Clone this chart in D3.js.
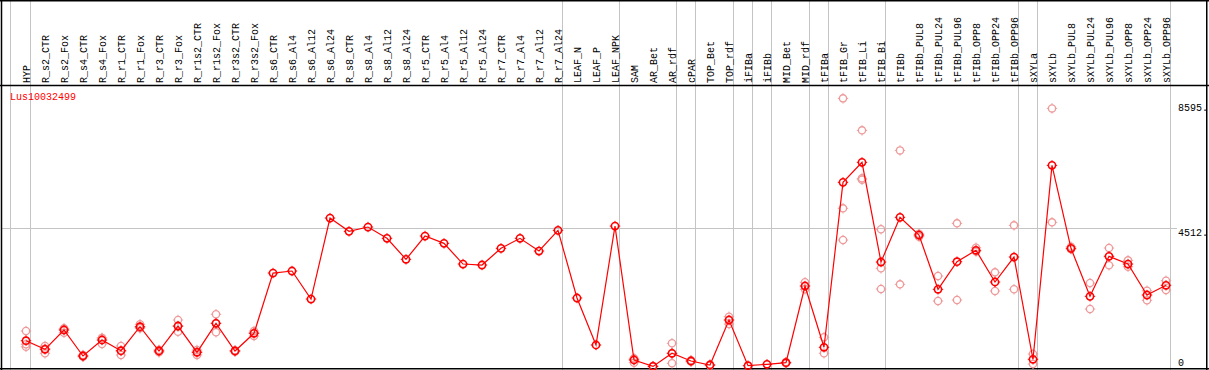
<!DOCTYPE html>
<html><head><meta charset="utf-8">
<script src="https://cdn.jsdelivr.net/npm/d3@7"></script>
<style>body{margin:0;background:#fff}svg{display:block}</style>
</head><body>
<script>
const categories = ["HYP","R_s2_CTR","R_s2_Fox","R_s4_CTR","R_s4_Fox","R_r1_CTR","R_r1_Fox","R_r3_CTR","R_r3_Fox","R_r1s2_CTR","R_r1s2_Fox","R_r3s2_CTR","R_r3s2_Fox","R_s6_CTR","R_s6_Al4","R_s6_Al12","R_s6_Al24","R_s8_CTR","R_s8_Al4","R_s8_Al12","R_s8_Al24","R_r5_CTR","R_r5_Al4","R_r5_Al12","R_r5_Al24","R_r7_CTR","R_r7_Al4","R_r7_Al12","R_r7_Al24","LEAF_N","LEAF_P","LEAF_NPK","SAM","AR_Bet","AR_rdf","cPAR","TOP_Bet","TOP_rdf","iFIBa","iFIBb","MID_Bet","MID_rdf","tFIBa","tFIB_Gr","tFIB_Li","tFIB_Bi","tFIBb","tFIBb_PUL8","tFIBb_PUL24","tFIBb_PUL96","tFIBb_OPP8","tFIBb_OPP24","tFIBb_OPP96","sXYLa","sXYLb","sXYLb_PUL8","sXYLb_PUL24","sXYLb_PUL96","sXYLb_OPP8","sXYLb_OPP24","sXYLb_OPP96"];
const meanValues = [839,558,1189,340,862,513,1297,503,1319,460,1408,503,1081,3050,3116,2201,4847,4412,4553,4184,3498,4259,4020,3344,3312,3857,4184,3769,4445,2234,699,4585,209,0,428,176,46,1515,23,69,121,2626,624,6013,6666,3410,4870,4291,2518,3420,3792,2757,3573,232,6568,3857,2289,3596,3344,2332,2649];
const rep1 = [1156,666,1244,372,928,666,1375,540,1515,536,1702,520,1156,null,null,null,null,null,null,null,null,null,null,null,null,null,null,null,null,null,null,null,265,10,754,200,60,1623,null,null,140,2747,950,8756,7711,4478,7057,4236,2952,4673,3877,3073,4608,405,8429,3910,2724,3867,3465,2472,2799];
const rep2 = [722,428,1101,317,732,372,1244,460,1133,372,1114,480,993,null,null,null,null,null,null,null,null,null,null,null,null,null,null,null,null,null,null,null,121,0,101,150,30,1385,null,null,100,2518,428,5164,6143,3204,2681,4330,2136,2169,3750,2463,2518,78,4706,3830,1875,3302,3256,2159,2495];
const rep3 = [639,580,1222,330,926,500,1272,510,1309,472,1408,509,1094,null,null,null,null,null,null,null,null,null,null,null,null,null,null,null,null,null,null,null,240,null,430,176,null,null,null,null,null,null,null,4128,6098,2528,null,null,null,null,null,null,null,null,null,null,null,null,null,null,null];
const groupEnds = [0,28,31,34,35,37,38,39,41,42,45,52,53,60];
const yTicks = [0,4512,8595];
const yTickLabels = ["0","4512.","8595."];
const gridValues = [4512];
const geneName = "Lus10032499";

const W = 1209, H = 370;
const FONT = "'Liberation Mono', 'DejaVu Sans Mono', monospace";
const svg = d3.select("body").append("svg").attr("width", W).attr("height", H);
svg.append("rect").attr("width", W).attr("height", H).attr("fill", "#fff");

const x = d3.scaleLinear().domain([0, categories.length - 1]).range([26, 1166]);
const y = d3.scaleLinear().domain([0, 8595]).range([366.4, 103.3]);

const grid = svg.append("g").attr("stroke", "#c4c4c4").attr("stroke-width", 1);
grid.append("line").attr("x1", x(0) - 15.5).attr("x2", x(0) - 15.5).attr("y1", 0).attr("y2", H);
groupEnds.forEach(i => {
  const gx = Math.round(x(i) + 4) + 0.5;
  grid.append("line").attr("x1", gx).attr("x2", gx).attr("y1", 0).attr("y2", H);
});
gridValues.forEach(v => {
  const gy = Math.round(y(v)) + 0.5;
  grid.append("line").attr("x1", 1).attr("x2", 1177).attr("y1", gy).attr("y2", gy);
});

// frame
const frame = svg.append("g").attr("stroke", "#000").attr("stroke-width", 1.5);
frame.append("line").attr("x1", 0).attr("x2", W).attr("y1", 0.75).attr("y2", 0.75);
frame.append("line").attr("x1", 0).attr("x2", W).attr("y1", 85.5).attr("y2", 85.5);
frame.append("line").attr("x1", 0).attr("x2", W).attr("y1", 368.75).attr("y2", 368.75);
frame.append("line").attr("x1", 1.5).attr("x2", 1.5).attr("y1", 0).attr("y2", H);
frame.append("line").attr("x1", 1206.75).attr("x2", 1206.75).attr("y1", 0).attr("y2", H);

// category labels
svg.append("g").selectAll("text").data(categories).join("text")
  .attr("transform", (d, i) => `translate(${x(i) + 4},83) rotate(-90)`)
  .attr("font-family", FONT).attr("font-size", 10).attr("fill", "#000")
  .text(d => d);

// y labels
svg.append("g").selectAll("text").data(yTicks).join("text")
  .attr("x", 1178)
  .attr("y", d => Math.min(y(d) + 8, 365.5))
  .attr("font-family", FONT).attr("font-size", 10).attr("fill", "#000")
  .text((d, i) => yTickLabels[i]);

svg.append("text").attr("x", 10).attr("y", 100)
  .attr("font-family", FONT).attr("font-size", 10).attr("fill", "#ff0000").text(geneName);

function marker(g, cx, cy, color, sw) {
  const r = 3.6;
  g.append("circle").attr("cx", cx).attr("cy", cy).attr("r", r)
    .attr("fill", "none").attr("stroke", color).attr("stroke-width", sw);
  const t = 1.6;
  const p = `M${cx},${cy - r - t}V${cy - r}M${cx},${cy + r}V${cy + r + t}M${cx - r - t},${cy}H${cx - r}M${cx + r},${cy}H${cx + r + t}`;
  g.append("path").attr("d", p).attr("stroke", color).attr("stroke-width", 1).attr("fill", "none");
}

const reps = svg.append("g");
[rep1, rep2, rep3].forEach(arr => {
  arr.forEach((v, i) => { if (v !== null) marker(reps, x(i), y(v), "#ee9a9a", 1.3); });
});

svg.append("path")
  .datum(meanValues)
  .attr("d", d3.line().x((d, i) => x(i)).y(d => y(d)))
  .attr("fill", "none").attr("stroke", "#ff0000").attr("stroke-width", 1.2);

const mains = svg.append("g");
meanValues.forEach((v, i) => marker(mains, x(i), y(v), "#ff0000", 1.6));
</script>
</body></html>
